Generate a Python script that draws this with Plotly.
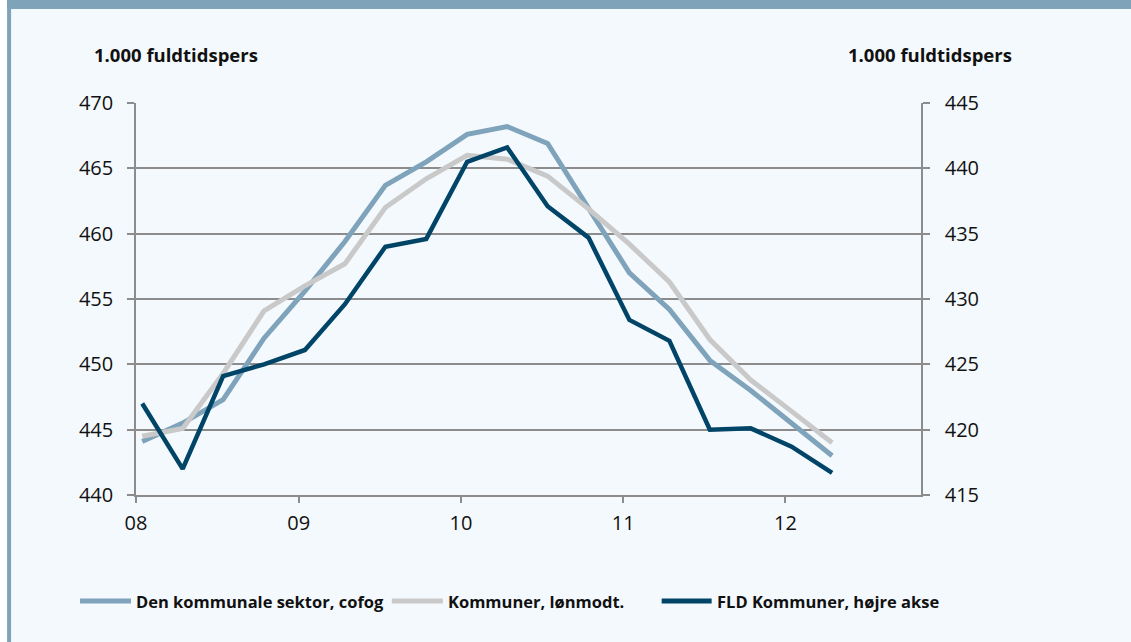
import plotly.graph_objects as go

# ---- data ----
quarters = ["2008-01-15", "2008-04-15", "2008-07-15", "2008-10-15",
            "2009-01-15", "2009-04-15", "2009-07-15", "2009-10-15",
            "2010-01-15", "2010-04-15", "2010-07-15", "2010-10-15",
            "2011-01-15", "2011-04-15", "2011-07-15", "2011-10-15",
            "2012-01-15", "2012-04-15"]
cofog = [444.1, 445.5, 447.3, 452.0, 455.6, 459.4, 463.7, 465.5, 467.6,
         468.2, 466.9, 462.0, 457.0, 454.2, 450.3, 448.0, 445.5, 443.0]
loenmodt = [444.5, 445.1, 449.3, 454.1, 456.0, 457.7, 462.0, 464.2, 466.0,
            465.7, 464.4, 461.9, 459.2, 456.3, 451.9, 448.8, 446.4, 444.0]
fld = [422.0, 417.0, 424.1, 425.0, 426.1, 429.6, 434.0, 434.6, 440.5,
       441.6, 437.1, 434.7, 428.4, 426.8, 420.0, 420.1, 418.7, 416.7]
year_ticks = ["2008-01-01", "2009-01-01", "2010-01-01", "2011-01-01", "2012-01-01"]
year_labels = ["08", "09", "10", "11", "12"]
left_ticks = [440, 445, 450, 455, 460, 465, 470]
right_ticks = [415, 420, 425, 430, 435, 440, 445]
names = ["Den kommunale sektor, cofog", "Kommuner, lønmodt.", "FLD Kommuner, højre akse"]
colors = ["#7FA3BA", "#C9C9C9", "#004468"]

W, H = 1131, 642
L, R, T, B = 136, 921.5, 103, 495
PW, PH = R - L, B - T


def px(x):
    return (x - L) / PW


def py(y):
    return (B - y) / PH


FONT = "Open Sans"
TXT = "#111111"
fig = go.Figure()
fig.add_trace(go.Scatter(x=quarters, y=cofog, mode="lines", name=names[0],
                         line=dict(color=colors[0], width=5), yaxis="y"))
fig.add_trace(go.Scatter(x=quarters, y=loenmodt, mode="lines", name=names[1],
                         line=dict(color=colors[1], width=5), yaxis="y"))
fig.add_trace(go.Scatter(x=quarters, y=fld, mode="lines", name=names[2],
                         line=dict(color=colors[2], width=4.5), yaxis="y2"))

shapes = [
    dict(type="rect", xref="paper", yref="paper", x0=px(0), x1=px(7), y0=py(0), y1=py(H),
         fillcolor="white", line_width=0, layer="below"),
    dict(type="rect", xref="paper", yref="paper", x0=px(7), x1=px(W + 2), y0=py(-2), y1=py(9),
         fillcolor="#7FA3B8", line_width=0, layer="below"),
    dict(type="rect", xref="paper", yref="paper", x0=px(7), x1=px(11), y0=py(-2), y1=py(H + 2),
         fillcolor="#7FA3B8", line_width=0, layer="below"),
]
annotations = [
    dict(text="<b>1.000 fuldtidspers</b>", xref="paper", yref="paper", x=px(92), y=py(54),
         xanchor="left", yanchor="middle", showarrow=False,
         font=dict(family=FONT, size=18.5, color=TXT)),
    dict(text="<b>1.000 fuldtidspers</b>", xref="paper", yref="paper", x=px(1015), y=py(54),
         xanchor="right", yanchor="middle", showarrow=False,
         font=dict(family=FONT, size=18.5, color=TXT)),
]
# manual legend
leg_y = py(601)
leg_items = [(80, 131, 134), (392, 443, 446), (662, 712, 715)]
for (x0, x1, xt), nm, c in zip(leg_items, names, colors):
    shapes.append(dict(type="line", xref="paper", yref="paper", x0=px(x0), x1=px(x1),
                       y0=leg_y, y1=leg_y, line=dict(color=c, width=5)))
    annotations.append(dict(text="<b>" + nm + "</b>", xref="paper", yref="paper",
                            x=px(xt), y=leg_y, xanchor="left", yanchor="middle",
                            showarrow=False,
                            font=dict(family=FONT, size=16.5, color=TXT)))

axis_common = dict(showline=True, linecolor="#8C8C8C", linewidth=1.5,
                   ticks="outside", tickcolor="#8C8C8C", tickwidth=1.5,
                   tickfont=dict(family=FONT, size=20, color=TXT), zeroline=False)

fig.update_layout(
    width=W, height=H,
    margin=dict(l=L, r=W - R, t=T, b=H - B),
    paper_bgcolor="#F4F9FD", plot_bgcolor="#F4F9FD",
    showlegend=False,
    xaxis=dict(type="date", range=["2008-01-01", "2012-11-01"], tickvals=year_ticks,
               ticktext=year_labels, showgrid=False, ticklen=6, ticklabelstandoff=3,
               **axis_common),
    yaxis=dict(range=[440, 470], tickvals=left_ticks, showgrid=True, gridcolor="#8C8C8C",
               gridwidth=1.5, ticklen=7, ticklabelstandoff=10, **axis_common),
    yaxis2=dict(range=[415, 445], tickvals=right_ticks, overlaying="y", side="right",
                showgrid=False, ticklen=7, ticklabelstandoff=11, **axis_common),
    shapes=shapes, annotations=annotations,
)

fig.write_html("out.html", config={"displayModeBar": False},
               post_script="document.body.style.margin='0';document.body.style.overflow='hidden';")
